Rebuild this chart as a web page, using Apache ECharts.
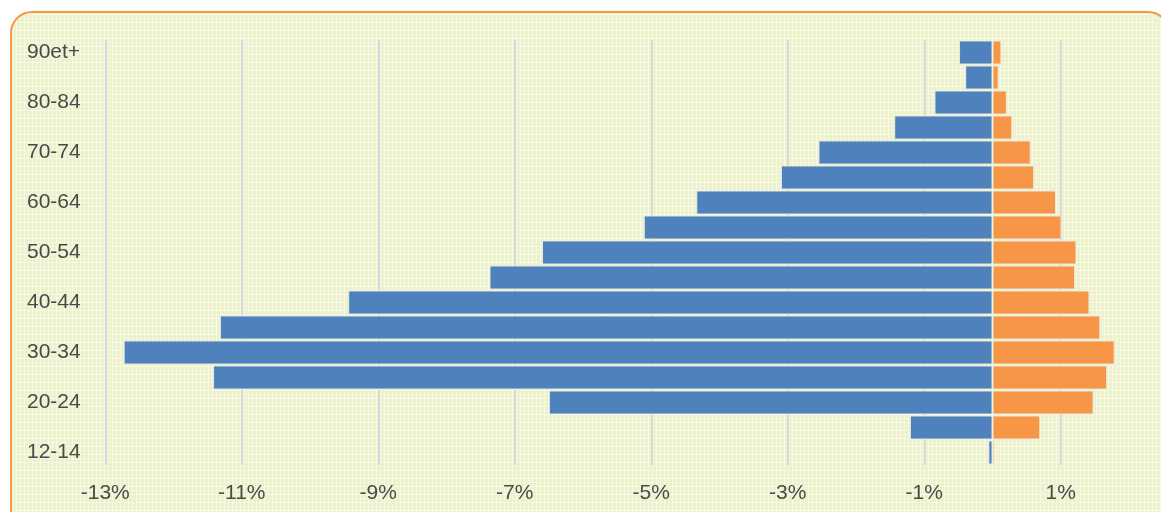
<!DOCTYPE html>
<html>
<head>
<meta charset="utf-8">
<script src="https://cdn.jsdelivr.net/npm/echarts@6/dist/echarts.min.js"></script>
<style>
	html, body {margin: 0; padding: 0; background: #fff; overflow: hidden;}
	.frame {
		position: absolute; left: 10px; top: 11px; width: 1160px; height: 530px;
		border: 2px solid #f79646; border-radius: 22px; box-sizing: border-box;
		background-color: #ecf1c9;
		background-image:
			repeating-linear-gradient(0deg, rgba(255,255,255,0.55) 0 1px, transparent 1px 4px),
			repeating-linear-gradient(90deg, rgba(255,255,255,0.55) 0 1px, transparent 1px 4px),
			repeating-linear-gradient(0deg, rgba(214,226,150,0.35) 0 1px, transparent 1px 8px),
			repeating-linear-gradient(90deg, rgba(214,226,150,0.35) 0 1px, transparent 1px 8px);
	}
	#chart {position: absolute; left: 0; top: 0; width: 1161px; height: 512px;}
</style>
</head>
<body>
<div class="frame"></div>
<div id="chart"></div>
<script>
// age groups, bottom to top
const ageGroups = ['12-14', '15-19', '20-24', '25-29', '30-34', '35-39', '40-44', '45-49',
	'50-54', '55-59', '60-64', '65-69', '70-74', '75-79', '80-84', '85-89', '90et+'];
// left side (negative %)
const leftValues = [-0.06, -1.21, -6.50, -11.42, -12.73, -11.32, -9.44, -7.37,
	-6.60, -5.11, -4.34, -3.10, -2.55, -1.44, -0.85, -0.40, -0.49];
// right side (positive %)
const rightValues = [0.03, 0.70, 1.48, 1.68, 1.79, 1.58, 1.42, 1.21,
	1.23, 1.01, 0.93, 0.61, 0.56, 0.29, 0.21, 0.09, 0.13];
const xMin = -14, xMax = 2, xStep = 1;

const myChart = echarts.init(document.getElementById('chart'));
const labelFont = {color: '#4a4a4a', fontSize: 21, fontFamily: 'Liberation Sans, Arial, sans-serif'};

myChart.setOption({
	backgroundColor: 'transparent',
	animation: false,
	grid: {left: 37, right: 32, top: 40, bottom: 47},
	xAxis: {
		type: 'value',
		min: xMin,
		max: xMax,
		interval: xStep,
		axisLine: {show: false},
		axisTick: {show: false},
		axisLabel: {
			...labelFont,
			margin: 18,
			formatter: v => (Math.abs(v) % 2 === 1 ? v + '%' : '')
		},
		splitLine: {
			show: true,
			lineStyle: {color: ['transparent', '#d8d8d8'], width: 2}
		}
	},
	yAxis: {
		type: 'category',
		data: ageGroups,
		axisLine: {show: false},
		axisTick: {show: false},
		axisLabel: {
			...labelFont,
			align: 'left',
			margin: 10,
			interval: 1
		}
	},
	series: [
		{name: 'left', type: 'bar', stack: 'pop', data: leftValues, itemStyle: {color: '#4f81bd'}},
		{name: 'right', type: 'bar', stack: 'pop', data: rightValues, itemStyle: {color: '#f79646'}}
	].map(obj => ({
		...obj,
		barCategoryGap: '4%',
		itemStyle: {...obj.itemStyle, borderColor: 'rgba(235,240,225,0.9)', borderWidth: 1}
	}))
});
</script>
</body>
</html>
